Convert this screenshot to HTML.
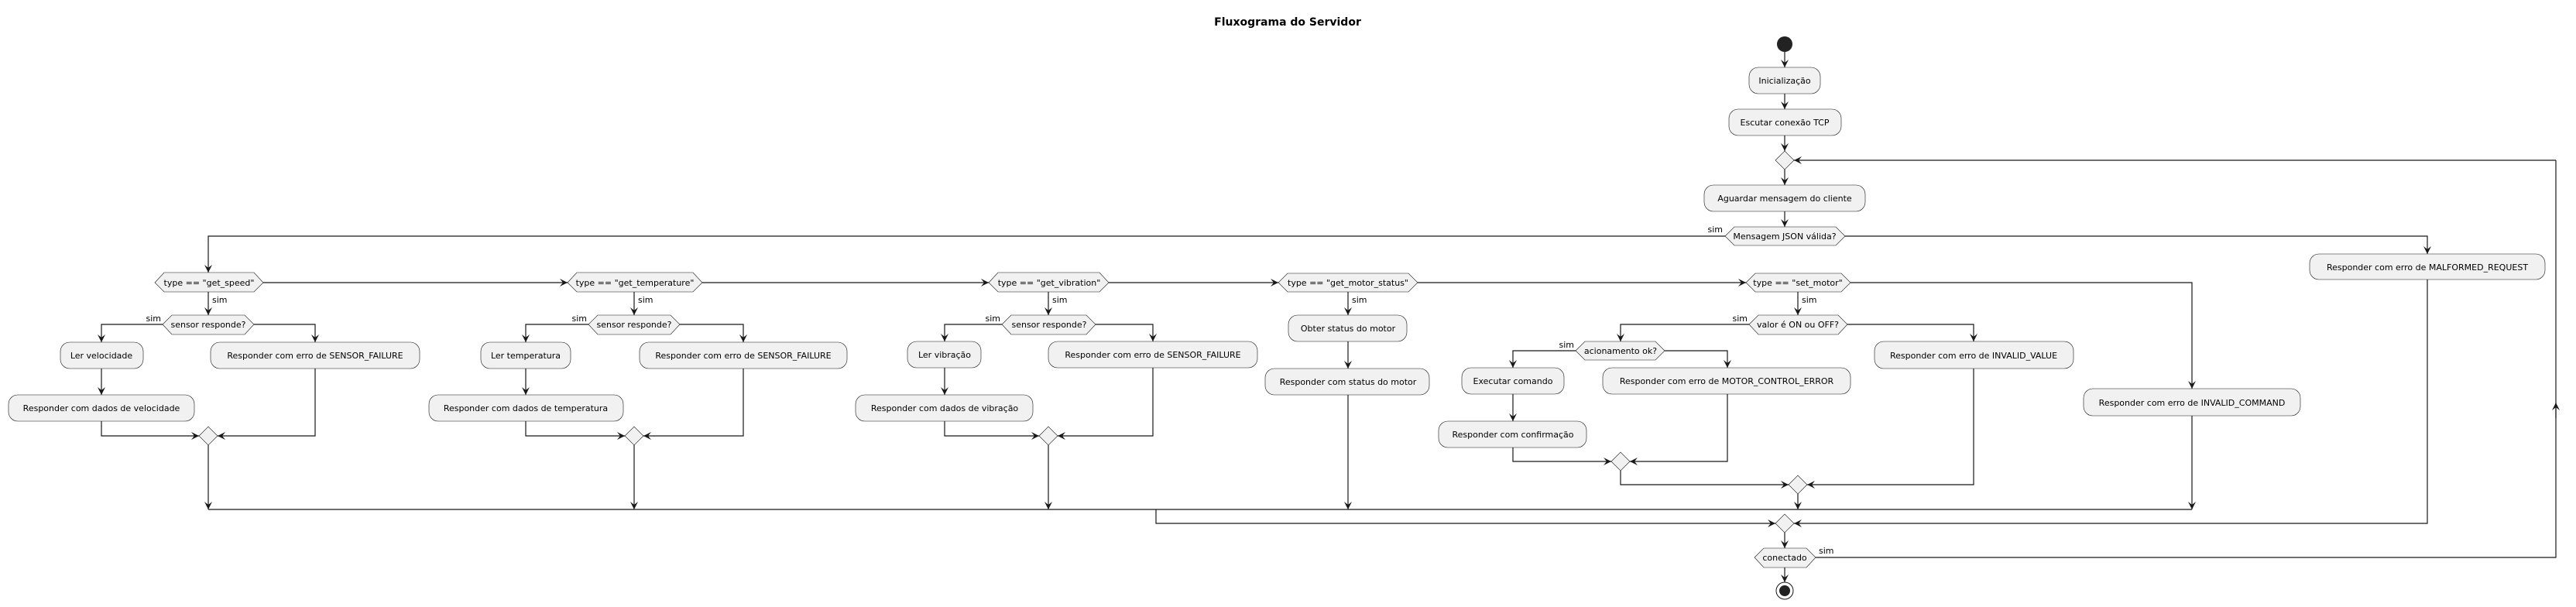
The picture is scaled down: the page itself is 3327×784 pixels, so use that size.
<!DOCTYPE html>
<html><head><meta charset="utf-8"><style>
html,body{margin:0;padding:0;background:#fff;}
svg{display:block;}
text{font-family:"DejaVu Sans","Liberation Sans",sans-serif;font-size:11px;fill:#000;}
.b{fill:#F1F1F1;stroke:#181818;stroke-width:0.6;}
.l{fill:none;stroke:#181818;stroke-width:1.2;}
.a{fill:none;stroke:#181818;stroke-width:1.2;marker-end:url(#ar);}
</style></head><body>
<svg width="3327" height="784" viewBox="0 0 3327 784" xmlns="http://www.w3.org/2000/svg">
<defs><marker id="ar" markerUnits="userSpaceOnUse" markerWidth="12" markerHeight="10" refX="10" refY="5" orient="auto"><path d="M0,0 L10,5 L0,10 L4,5 Z" fill="#181818"/></marker></defs>
<text x="1663" y="33" text-anchor="middle" style="font-weight:bold;font-size:14px">Fluxograma do Servidor</text>

<circle cx="2305" cy="57" r="10" fill="#222"/>
<path class="a" d="M2305,67 V87"/>
<rect class="b" x="2259" y="87" width="92" height="34" rx="12"/><text x="2305" y="108" text-anchor="middle">Inicialização</text>
<path class="a" d="M2305,121 V141"/>
<rect class="b" x="2233" y="141" width="145" height="34" rx="12"/><text x="2305" y="162" text-anchor="middle">Escutar conexão TCP</text>
<path class="a" d="M2305,175 V195"/>
<polygon class="b" points="2293,207 2305,195 2317,207 2305,219"/>
<path class="a" d="M2305,219 V239"/>
<rect class="b" x="2201" y="239" width="208" height="34" rx="12"/><text x="2305" y="260" text-anchor="middle">Aguardar mensagem do cliente</text>
<path class="a" d="M2305,273 V293"/>
<polygon class="b" points="2228,305 2240,293 2371,293 2383,305 2371,317 2240,317"/><text x="2305" y="309" text-anchor="middle">Mensagem JSON válida?</text>
<text x="2225" y="300" text-anchor="end">sim</text>
<path class="a" d="M2228,305 H269 V352"/>
<path class="a" d="M2383,305 H3135 V328"/>
<rect class="b" x="2983" y="328" width="304" height="33" rx="12"/><text x="3135" y="349" text-anchor="middle">Responder com erro de MALFORMED_REQUEST</text>
<path class="a" d="M3135,361 V676 H2317"/>

<path class="a" d="M340,365 H733"/>
<path class="a" d="M907,365 H1277"/>
<path class="a" d="M1432,365 H1651"/>
<path class="a" d="M1831,365 H2255"/>
<path class="a" d="M2390,365 H2831 V502"/>

<polygon class="b" points="200,365 212,352 328,352 340,365 328,377 212,377"/><text x="270" y="369" text-anchor="middle">type == "get_speed"</text>
<path class="a" d="M269,377 V407"/><text x="274" y="391">sim</text>
<polygon class="b" points="210,419 222,407 316,407 328,419 316,432 222,432"/><text x="269" y="423" text-anchor="middle">sensor responde?</text>
<text x="208" y="415" text-anchor="end">sim</text>
<path class="a" d="M210,419 H131 V442"/>
<path class="a" d="M328,419 H407 V442"/>
<rect class="b" x="78" y="442" width="107" height="34" rx="12"/><text x="131" y="463" text-anchor="middle">Ler velocidade</text>
<path class="a" d="M131,476 V510"/>
<rect class="b" x="11" y="510" width="240" height="34" rx="12"/><text x="131" y="531" text-anchor="middle">Responder com dados de velocidade</text>
<rect class="b" x="272" y="442" width="270" height="34" rx="12"/><text x="407" y="463" text-anchor="middle">Responder com erro de SENSOR_FAILURE</text>
<path class="a" d="M131,544 V563 H257"/>
<path class="a" d="M407,476 V563 H281"/>
<polygon class="b" points="257,563 269,551 281,563 269,575"/>
<path class="a" d="M269,575 V658"/>

<polygon class="b" points="733,365 745,352 895,352 907,365 895,377 745,377"/><text x="820" y="369" text-anchor="middle">type == "get_temperature"</text>
<path class="a" d="M819,377 V407"/><text x="824" y="391">sim</text>
<polygon class="b" points="760,419 772,407 866,407 878,419 866,432 772,432"/><text x="819" y="423" text-anchor="middle">sensor responde?</text>
<text x="758" y="415" text-anchor="end">sim</text>
<path class="a" d="M760,419 H679 V442"/>
<path class="a" d="M878,419 H960 V442"/>
<rect class="b" x="621" y="442" width="116" height="34" rx="12"/><text x="679" y="463" text-anchor="middle">Ler temperatura</text>
<path class="a" d="M679,476 V510"/>
<rect class="b" x="554" y="510" width="251" height="34" rx="12"/><text x="679" y="531" text-anchor="middle">Responder com dados de temperatura</text>
<rect class="b" x="826" y="442" width="268" height="34" rx="12"/><text x="960" y="463" text-anchor="middle">Responder com erro de SENSOR_FAILURE</text>
<path class="a" d="M679,544 V563 H807"/>
<path class="a" d="M960,476 V563 H831"/>
<polygon class="b" points="807,563 819,551 831,563 819,575"/>
<path class="a" d="M819,575 V658"/>

<polygon class="b" points="1277,365 1289,352 1420,352 1432,365 1420,377 1289,377"/><text x="1355" y="369" text-anchor="middle">type == "get_vibration"</text>
<path class="a" d="M1354,377 V407"/><text x="1359" y="391">sim</text>
<polygon class="b" points="1294,419 1306,407 1403,407 1415,419 1403,432 1306,432"/><text x="1355" y="423" text-anchor="middle">sensor responde?</text>
<text x="1292" y="415" text-anchor="end">sim</text>
<path class="a" d="M1294,419 H1220 V441"/>
<path class="a" d="M1415,419 H1489 V441"/>
<rect class="b" x="1172" y="441" width="95" height="34" rx="12"/><text x="1220" y="462" text-anchor="middle">Ler vibração</text>
<path class="a" d="M1220,475 V510"/>
<rect class="b" x="1105" y="510" width="229" height="34" rx="12"/><text x="1220" y="531" text-anchor="middle">Responder com dados de vibração</text>
<rect class="b" x="1354" y="441" width="270" height="34" rx="12"/><text x="1489" y="462" text-anchor="middle">Responder com erro de SENSOR_FAILURE</text>
<path class="a" d="M1220,544 V563 H1342"/>
<path class="a" d="M1489,475 V563 H1366"/>
<polygon class="b" points="1342,563 1354,551 1366,563 1354,575"/>
<path class="a" d="M1354,575 V658"/>

<polygon class="b" points="1651,365 1663,353 1819,353 1831,365 1819,377 1663,377"/><text x="1741" y="369" text-anchor="middle">type == "get_motor_status"</text>
<path class="a" d="M1741,377 V407"/><text x="1746" y="391">sim</text>
<rect class="b" x="1664" y="407" width="153" height="34" rx="12"/><text x="1741" y="428" text-anchor="middle">Obter status do motor</text>
<path class="a" d="M1741,441 V476"/>
<rect class="b" x="1634" y="476" width="212" height="34" rx="12"/><text x="1741" y="497" text-anchor="middle">Responder com status do motor</text>
<path class="a" d="M1741,510 V658"/>

<polygon class="b" points="2255,365 2267,353 2378,353 2390,365 2378,377 2267,377"/><text x="2322" y="369" text-anchor="middle">type == "set_motor"</text>
<path class="a" d="M2322,377 V407"/><text x="2327" y="391">sim</text>
<polygon class="b" points="2259,419 2271,407 2374,407 2386,419 2374,432 2271,432"/><text x="2322" y="423" text-anchor="middle">valor é ON ou OFF?</text>
<text x="2257" y="415" text-anchor="end">sim</text>
<path class="a" d="M2259,419 H2093 V441"/>
<path class="a" d="M2386,419 H2549 V441"/>
<polygon class="b" points="2035,453 2047,441 2138,441 2150,453 2138,465 2047,465"/><text x="2093" y="457" text-anchor="middle">acionamento ok?</text>
<text x="2033" y="449" text-anchor="end">sim</text>
<path class="a" d="M2035,453 H1954 V475"/>
<path class="a" d="M2150,453 H2231 V475"/>
<rect class="b" x="1888" y="475" width="132" height="34" rx="12"/><text x="1954" y="496" text-anchor="middle">Executar comando</text>
<path class="a" d="M1954,509 V544"/>
<rect class="b" x="1858" y="544" width="191" height="34" rx="12"/><text x="1954" y="565" text-anchor="middle">Responder com confirmação</text>
<rect class="b" x="2070" y="475" width="320" height="34" rx="12"/><text x="2230" y="496" text-anchor="middle">Responder com erro de MOTOR_CONTROL_ERROR</text>
<path class="a" d="M1954,578 V596 H2081"/>
<path class="a" d="M2231,509 V596 H2105"/>
<polygon class="b" points="2081,596 2093,584 2105,596 2093,608"/>
<path class="a" d="M2093,608 V626 H2310"/>
<rect class="b" x="2421" y="441" width="257" height="35" rx="12"/><text x="2549" y="463" text-anchor="middle">Responder com erro de INVALID_VALUE</text>
<path class="a" d="M2549,476 V626 H2334"/>
<polygon class="b" points="2310,626 2322,614 2334,626 2322,638"/>
<path class="a" d="M2322,638 V658"/>

<rect class="b" x="2691" y="502" width="280" height="35" rx="12"/><text x="2831" y="524" text-anchor="middle">Responder com erro de INVALID_COMMAND</text>
<path class="a" d="M2831,537 V658"/>

<path class="l" d="M269,658 H2831"/>
<path class="a" d="M1493,658 V676 H2293"/>
<polygon class="b" points="2293,676 2305,664 2317,676 2305,688"/>
<path class="a" d="M2305,688 V708"/>
<polygon class="b" points="2266,720 2278,708 2333,708 2345,720 2333,733 2278,733"/><text x="2305" y="724" text-anchor="middle">conectado</text>
<text x="2349" y="715">sim</text>
<path class="l" d="M2345,720 H3301 V207"/>
<path class="a" d="M3301,540 V520"/>
<path class="a" d="M3301,207 H2317"/>
<path class="a" d="M2305,733 V752"/>
<circle cx="2305" cy="763" r="11" fill="#fff" stroke="#181818" stroke-width="1"/>
<circle cx="2305" cy="763" r="7" fill="#222"/>
</svg>
</body></html>
